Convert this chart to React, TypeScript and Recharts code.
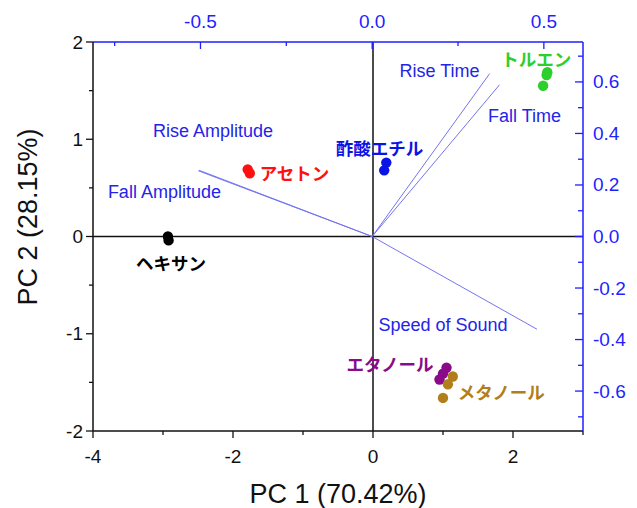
import { ScatterChart, Scatter, XAxis, YAxis, ReferenceLine } from 'recharts';

const FONT = '"Liberation Sans", Arial, Helvetica, sans-serif';
const JP_FONT = '"Noto Sans CJK JP", "Noto Sans", sans-serif';

// PCA scores (PC1, PC2) for each solvent
const hexane = [{ x: -2.93, y: 0.0 }, { x: -2.92, y: -0.04 }];
const acetone = [{ x: -1.79, y: 0.69 }, { x: -1.76, y: 0.65 }];
const ethylAcetate = [{ x: 0.19, y: 0.76 }, { x: 0.16, y: 0.68 }];
const toluene = [{ x: 2.49, y: 1.69 }, { x: 2.48, y: 1.66 }, { x: 2.43, y: 1.55 }];
const ethanol = [{ x: 1.05, y: -1.35 }, { x: 1.0, y: -1.41 }, { x: 0.95, y: -1.47 }];
const methanol = [{ x: 1.14, y: -1.44 }, { x: 1.07, y: -1.52 }, { x: 1.0, y: -1.66 }];

const groupNames = ['ヘキサン', 'アセトン', '酢酸エチル', 'トルエン', 'エタノール', 'メタノール'];
const groupScores = [hexane, acetone, ethylAcetate, toluene, ethanol, methanol];

// loadings (top / right axes)
const loadingNames = ['Rise Time', 'Fall Time', 'Rise Amplitude', 'Fall Amplitude', 'Speed of Sound'];
const loadingPC1 = [0.342, 0.371, -0.504, -0.506, 0.48];
const loadingPC2 = [0.632, 0.589, 0.257, 0.255, -0.36];

// ticks
const bottomTicks = [-4, -3, -2, -1, 0, 1, 2, 3];
const bottomMajor = [-4, -2, 0, 2];
const leftTicks = [-2, -1.5, -1, -0.5, 0, 0.5, 1, 1.5, 2];
const leftMajor = [-2, -1, 0, 1, 2];
const topTicks = [-0.75, -0.5, -0.25, 0, 0.25, 0.5];
const topMajor = [-0.5, 0, 0.5];
const rightTicks = [-0.7, -0.6, -0.5, -0.4, -0.3, -0.2, -0.1, 0, 0.1, 0.2, 0.3, 0.4, 0.5, 0.6, 0.7];
const rightMajor = [-0.6, -0.4, -0.2, 0, 0.2, 0.4, 0.6];

// styling (not data)
const groupColors = ['#000000', '#ff1010', '#0a14e6', '#2ccf2c', '#8a0a8a', '#b07f1c'];
const groupLabelStyle = [
  { dx: 3, dy: 26, anchor: 'middle' },
  { dx: 12, dy: 3, anchor: 'start' },
  { dx: 37, dy: -15, anchor: 'end' },
  { dx: -11, dy: -14, anchor: 'middle' },
  { dx: -13, dy: -4, anchor: 'end' },
  { dx: 5, dy: 15, anchor: 'start' },
];
const loadingLabelStyle = [
  { dx: -50, dy: -3 },
  { dx: 25, dy: 31 },
  { dx: 14, dy: -39 },
  { dx: -34, dy: 21 },
  { dx: -94, dy: -4 },
];
const BLUE = '#1f1fff';
const LOAD_TEXT = '#2424e8';
const LOAD_LINE = '#7474f0';

const near = (list: number[], v: number) => list.some((m) => Math.abs(m - v) < 1e-9);

const makeTick =
  (side: 'bottom' | 'top' | 'left' | 'right', major: number[], color: string, digits: number) =>
  (props: any) => {
    const { x, y, payload } = props;
    const v = payload.value;
    const isMajor = near(major, v);
    const len = isMajor ? 7 : 4;
    const label = isMajor ? v.toFixed(digits) : '';
    const common = { fill: color, fontSize: 19, fontFamily: FONT };
    if (side === 'bottom') {
      return (
        <g>
          <line x1={x} y1={y} x2={x} y2={y + len} stroke={color} strokeWidth={1.3} />
          <text x={x} y={y + 25} textAnchor="middle" dominantBaseline="central" {...common}>{label}</text>
        </g>
      );
    }
    if (side === 'top') {
      return (
        <g>
          <line x1={x} y1={y} x2={x} y2={y + len} stroke={color} strokeWidth={1.3} />
          <text x={x} y={y - 21} textAnchor="middle" dominantBaseline="central" {...common}>{label}</text>
        </g>
      );
    }
    if (side === 'left') {
      return (
        <g>
          <line x1={x} y1={y} x2={x - len} y2={y} stroke={color} strokeWidth={1.3} />
          <text x={x - 10} y={y} textAnchor="end" dominantBaseline="central" {...common}>{label}</text>
        </g>
      );
    }
    return (
      <g>
        <line x1={x} y1={y} x2={x - len - 1} y2={y} stroke={color} strokeWidth={1.3} />
        <text x={x + 10} y={y} textAnchor="start" dominantBaseline="central" {...common}>{label}</text>
      </g>
    );
  };

const dotShape = (color: string) => (props: any) => <circle cx={props.cx} cy={props.cy} r={5.2} fill={color} />;

const textShape =
  (text: string, color: string, dx: number, dy: number, anchor: string, family: string, size: number, weight: string) =>
  (props: any) => (
    <text
      x={props.cx + dx}
      y={props.cy + dy}
      textAnchor={anchor}
      dominantBaseline="central"
      fill={color}
      fontSize={size}
      fontFamily={family}
      fontWeight={weight}
    >
      {text}
    </text>
  );

const emptyShape = () => <g />;

export default function App() {
  return (
    <div style={{ position: 'absolute', left: 0, top: 0, background: '#fff' }}>
      <ScatterChart
        width={637}
        height={508}
        margin={{ top: 12, right: 4, bottom: 17, left: 33 }}
        style={{ fontFamily: FONT }}
      >
        <XAxis
          xAxisId="pc"
          dataKey="x"
          type="number"
          orientation="bottom"
          domain={[-4, 3]}
          ticks={bottomTicks}
          interval={0}
          height={60}
          allowDataOverflow
          tickSize={0}
          tickMargin={0}
          tickLine={false}
          axisLine={{ stroke: '#111', strokeWidth: 1.5 }}
          tick={makeTick('bottom', bottomMajor, '#111', 0)}
          label={{
            content: (p: any) => (
              <text
                x={p.viewBox.x + p.viewBox.width / 2}
                y={p.viewBox.y + 63}
                textAnchor="middle"
                dominantBaseline="central"
                fontSize={27}
                fontFamily={FONT}
                fill="#111"
              >
                PC 1 (70.42%)
              </text>
            ),
          }}
        />
        <XAxis
          xAxisId="load"
          dataKey="x"
          type="number"
          orientation="top"
          domain={[-0.813, 0.614]}
          ticks={topTicks}
          interval={0}
          height={30}
          allowDataOverflow
          tickSize={0}
          tickMargin={0}
          tickLine={false}
          axisLine={{ stroke: BLUE, strokeWidth: 1.5 }}
          tick={makeTick('top', topMajor, BLUE, 1)}
        />
        <YAxis
          yAxisId="pc"
          dataKey="y"
          type="number"
          orientation="left"
          domain={[-2, 2]}
          ticks={leftTicks}
          interval={0}
          width={60}
          allowDataOverflow
          tickSize={0}
          tickMargin={0}
          tickLine={false}
          axisLine={{ stroke: '#111', strokeWidth: 1.5 }}
          tick={makeTick('left', leftMajor, '#111', 0)}
          label={{
            content: () => (
              <text
                x={28}
                y={217}
                transform="rotate(-90 28 217)"
                textAnchor="middle"
                dominantBaseline="central"
                fontSize={27}
                fontFamily={FONT}
                fill="#111"
              >
                PC 2 (28.15%)
              </text>
            ),
          }}
        />
        <YAxis
          yAxisId="load"
          dataKey="y"
          type="number"
          orientation="right"
          domain={[-0.755, 0.755]}
          ticks={rightTicks}
          interval={0}
          width={50}
          allowDataOverflow
          tickSize={0}
          tickMargin={0}
          tickLine={false}
          axisLine={{ stroke: BLUE, strokeWidth: 1.5 }}
          tick={makeTick('right', rightMajor, BLUE, 1)}
        />

        <ReferenceLine xAxisId="pc" yAxisId="pc" x={0} stroke="#111" strokeWidth={1.5} />
        <ReferenceLine xAxisId="pc" yAxisId="pc" y={0} stroke="#111" strokeWidth={1.5} />

        {loadingNames.map((name, i) => (
          <Scatter
            key={`load-${name}`}
            xAxisId="load"
            yAxisId="load"
            data={[
              { x: 0, y: 0 },
              { x: loadingPC1[i], y: loadingPC2[i] },
            ]}
            line={{ stroke: LOAD_LINE, strokeWidth: 1 }}
            shape={emptyShape}
            isAnimationActive={false}
          />
        ))}
        {loadingNames.map((name, i) => (
          <Scatter
            key={`loadlabel-${name}`}
            xAxisId="load"
            yAxisId="load"
            data={[{ x: loadingPC1[i], y: loadingPC2[i] }]}
            shape={textShape(name, LOAD_TEXT, loadingLabelStyle[i].dx, loadingLabelStyle[i].dy, 'middle', FONT, 18, 'normal')}
            isAnimationActive={false}
          />
        ))}

        {groupScores.map((pts, i) => (
          <Scatter
            key={`grp-${groupNames[i]}`}
            xAxisId="pc"
            yAxisId="pc"
            data={pts}
            shape={dotShape(groupColors[i])}
            isAnimationActive={false}
          />
        ))}
        {groupScores.map((pts, i) => (
          <Scatter
            key={`grplabel-${groupNames[i]}`}
            xAxisId="pc"
            yAxisId="pc"
            data={[pts[0]]}
            shape={textShape(
              groupNames[i],
              groupColors[i],
              groupLabelStyle[i].dx,
              groupLabelStyle[i].dy,
              groupLabelStyle[i].anchor,
              JP_FONT,
              17.5,
              'bold'
            )}
            isAnimationActive={false}
          />
        ))}
      </ScatterChart>
    </div>
  );
}
